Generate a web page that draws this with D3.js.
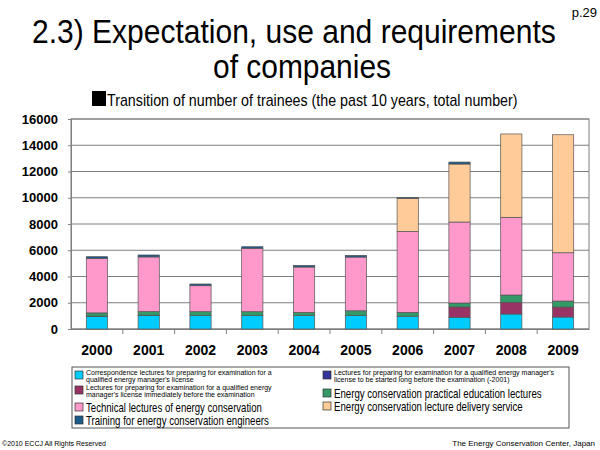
<!DOCTYPE html>
<html>
<head>
<meta charset="utf-8">
<script src="https://cdn.jsdelivr.net/npm/d3@7"></script>
<style>
  body { margin: 0; background: #fff; }
  svg { font-family: Arial, "Liberation Sans", sans-serif; }
</style>
</head>
<body>
<div id="chart"></div>
<script>
// data
var years = ["2000", "2001", "2002", "2003", "2004", "2005", "2006", "2007", "2008", "2009"];
var correspondence = [950, 1020, 1040, 1040, 1020, 1040, 970, 890, 1140, 910];
var before2001 = [30, 30, 0, 0, 0, 0, 0, 0, 0, 0];
var immediate = [0, 0, 0, 0, 0, 0, 0, 790, 890, 760];
var practical = [250, 280, 280, 280, 250, 350, 300, 300, 560, 460];
var technical = [4150, 4160, 1980, 4830, 3450, 4090, 6170, 6170, 5920, 3680];
var delivery = [0, 0, 0, 0, 0, 0, 2520, 4420, 6350, 8990];
var training = [130, 150, 130, 120, 130, 130, 50, 150, 0, 0];
var yTicks = [0, 2000, 4000, 6000, 8000, 10000, 12000, 14000, 16000];

var series = [
    {key: "correspondence", values: correspondence, color: "#00ccff"},
    {key: "before2001", values: before2001, color: "#333399"},
    {key: "immediate", values: immediate, color: "#993366"},
    {key: "practical", values: practical, color: "#339966"},
    {key: "technical", values: technical, color: "#ff99cc"},
    {key: "delivery", values: delivery, color: "#ffcc99"},
    {key: "training", values: training, color: "#1c5a8a"}
];

var width = 600, height = 450;
var plot = {left: 71, right: 589, top: 119, bottom: 329};

var svg = d3.select("#chart").append("svg")
    .attr("width", width)
    .attr("height", height);

// the slide font is narrower than Arial: squeeze a text horizontally to a width
function squeeze(sel, x0, y0, w) {
    var natural = sel.node().getComputedTextLength();
    sel.attr("x", 0).attr("y", 0)
        .attr("transform", "translate(" + x0 + "," + y0 + ") scale(" + (w / natural) + ",1)");
    return sel;
}

// titles
squeeze(svg.append("text")
    .style("font-size", "33px")
    .text("2.3) Expectation, use and requirements"), 32, 43, 524);
squeeze(svg.append("text")
    .style("font-size", "33px")
    .text("of companies"), 213, 78, 178);
svg.append("text")
    .attr("x", 597).attr("y", 17)
    .attr("text-anchor", "end")
    .style("font-size", "13px")
    .text("p.29");

svg.append("rect")
    .attr("x", 92).attr("y", 91)
    .attr("width", 14).attr("height", 15)
    .attr("fill", "#000");
squeeze(svg.append("text")
    .style("font-size", "16px")
    .text("Transition of number of trainees (the past 10 years, total number)"), 107, 106, 411);

// scales
var x = d3.scaleBand()
    .domain(years)
    .range([plot.left, plot.right])
    .paddingInner(0.59)
    .paddingOuter(0.295);

var y = d3.scaleLinear()
    .domain([0, 16000])
    .range([plot.bottom, plot.top]);

// grid
svg.append("g")
    .selectAll("line")
    .data(yTicks)
    .enter().append("line")
    .attr("x1", plot.left).attr("x2", plot.right)
    .attr("y1", function (d) { return y(d); })
    .attr("y2", function (d) { return y(d); })
    .attr("stroke", "#7f7f7f")
    .attr("stroke-width", 1);

svg.append("rect")
    .attr("x", plot.left).attr("y", plot.top)
    .attr("width", plot.right - plot.left)
    .attr("height", plot.bottom - plot.top)
    .attr("fill", "none")
    .attr("stroke", "#7f7f7f");

// y axis
var yAxis = svg.append("g")
    .attr("transform", "translate(" + plot.left + ",0)")
    .call(d3.axisLeft(y).tickValues(yTicks).tickSize(3).tickFormat(d3.format("d")));
yAxis.select(".domain").attr("stroke", "#7f7f7f");
yAxis.selectAll(".tick line").attr("stroke", "#7f7f7f");
yAxis.selectAll("text")
    .attr("x", -13)
    .style("font-size", "13px")
    .style("font-weight", "bold")
    .attr("fill", "#000");

// x axis: ticks between categories
var xAxis = svg.append("g")
    .attr("transform", "translate(0," + plot.bottom + ")")
    .call(d3.axisBottom(x).tickSize(0).tickPadding(16));
xAxis.select(".domain").attr("stroke", "#7f7f7f");
xAxis.selectAll("text")
    .style("font-size", "14px")
    .style("font-weight", "bold")
    .attr("fill", "#000");
xAxis.selectAll(".sep")
    .data(years.slice(1))
    .enter().append("line")
    .attr("class", "sep")
    .attr("x1", function (d) { return x(d) - x.step() * x.paddingInner() / 2; })
    .attr("x2", function (d) { return x(d) - x.step() * x.paddingInner() / 2; })
    .attr("y1", 0).attr("y2", 5)
    .attr("stroke", "#7f7f7f");

// stacked bars
var table = years.map(function (yr, i) {
    var row = {year: yr};
    series.forEach(function (s) { row[s.key] = s.values[i]; });
    return row;
});
var stacked = d3.stack().keys(series.map(function (s) { return s.key; }))(table);

svg.append("g")
    .selectAll("g")
    .data(stacked)
    .enter().append("g")
    .attr("fill", function (d, i) { return series[i].color; })
    .selectAll("rect")
    .data(function (d) { return d.filter(function (p) { return p[1] > p[0]; }); })
    .enter().append("rect")
    .attr("x", function (d) { return x(d.data.year); })
    .attr("y", function (d) { return y(d[1]); })
    .attr("width", x.bandwidth())
    .attr("height", function (d) { return y(d[0]) - y(d[1]); })
    .attr("stroke", "#555")
    .attr("stroke-width", 0.7);

// legend
svg.append("rect")
    .attr("x", 72).attr("y", 367)
    .attr("width", 497).attr("height", 61)
    .attr("fill", "#fff")
    .attr("stroke", "#555");

// two-line entries are tiny, one-line entries are squeezed to the slide widths
var legendItems = [
    {color: "#00ccff", x: 75, y: 368, lines: ["Correspondence lectures for preparing for examination for a", "qualified energy manager's license"]},
    {color: "#993366", x: 75, y: 383, lines: ["Lectures for preparing for examination for a qualified energy", "manager's license immediately before the examination"]},
    {color: "#ff99cc", x: 75, y: 401, big: 176, lines: ["Technical lectures of energy conservation"]},
    {color: "#1c5a8a", x: 75, y: 414, big: 183, lines: ["Training for energy conservation engineers"]},
    {color: "#333399", x: 323, y: 368, lines: ["Lectures for preparing for examination for a qualified energy manager's", "license to be started long before the examination (-2001)"]},
    {color: "#339966", x: 323, y: 387, big: 208, lines: ["Energy conservation practical education lectures"]},
    {color: "#ffcc99", x: 323, y: 400, big: 189, lines: ["Energy conservation lecture delivery service"]}
];

var legend = svg.selectAll(".legend")
    .data(legendItems)
    .enter().append("g")
    .attr("class", "legend")
    .attr("transform", function (d) { return "translate(" + d.x + "," + d.y + ")"; });

legend.append("rect")
    .attr("x", 0)
    .attr("y", function (d) { return d.big ? 2 : 3; })
    .attr("width", 8).attr("height", 8)
    .attr("fill", function (d) { return d.color; })
    .attr("stroke", "#333")
    .attr("stroke-width", 0.7);

legend.each(function (d) {
    var g = d3.select(this);
    d.lines.forEach(function (line, i) {
        if (d.big) {
            squeeze(g.append("text").style("font-size", "12px").text(line), 11, 10.5, d.big);
        } else {
            g.append("text")
                .attr("x", 11)
                .attr("y", 6.5 + i * 7.3)
                .style("font-size", "7px")
                .text(line);
        }
    });
});

// footer
svg.append("text")
    .attr("x", 2).attr("y", 446)
    .style("font-size", "7px")
    .text("\u00a92010 ECCJ All Rights Reserved");
svg.append("text")
    .attr("x", 595).attr("y", 446)
    .attr("text-anchor", "end")
    .style("font-size", "8px")
    .text("The Energy Conservation Center, Japan");
</script>
</body>
</html>
